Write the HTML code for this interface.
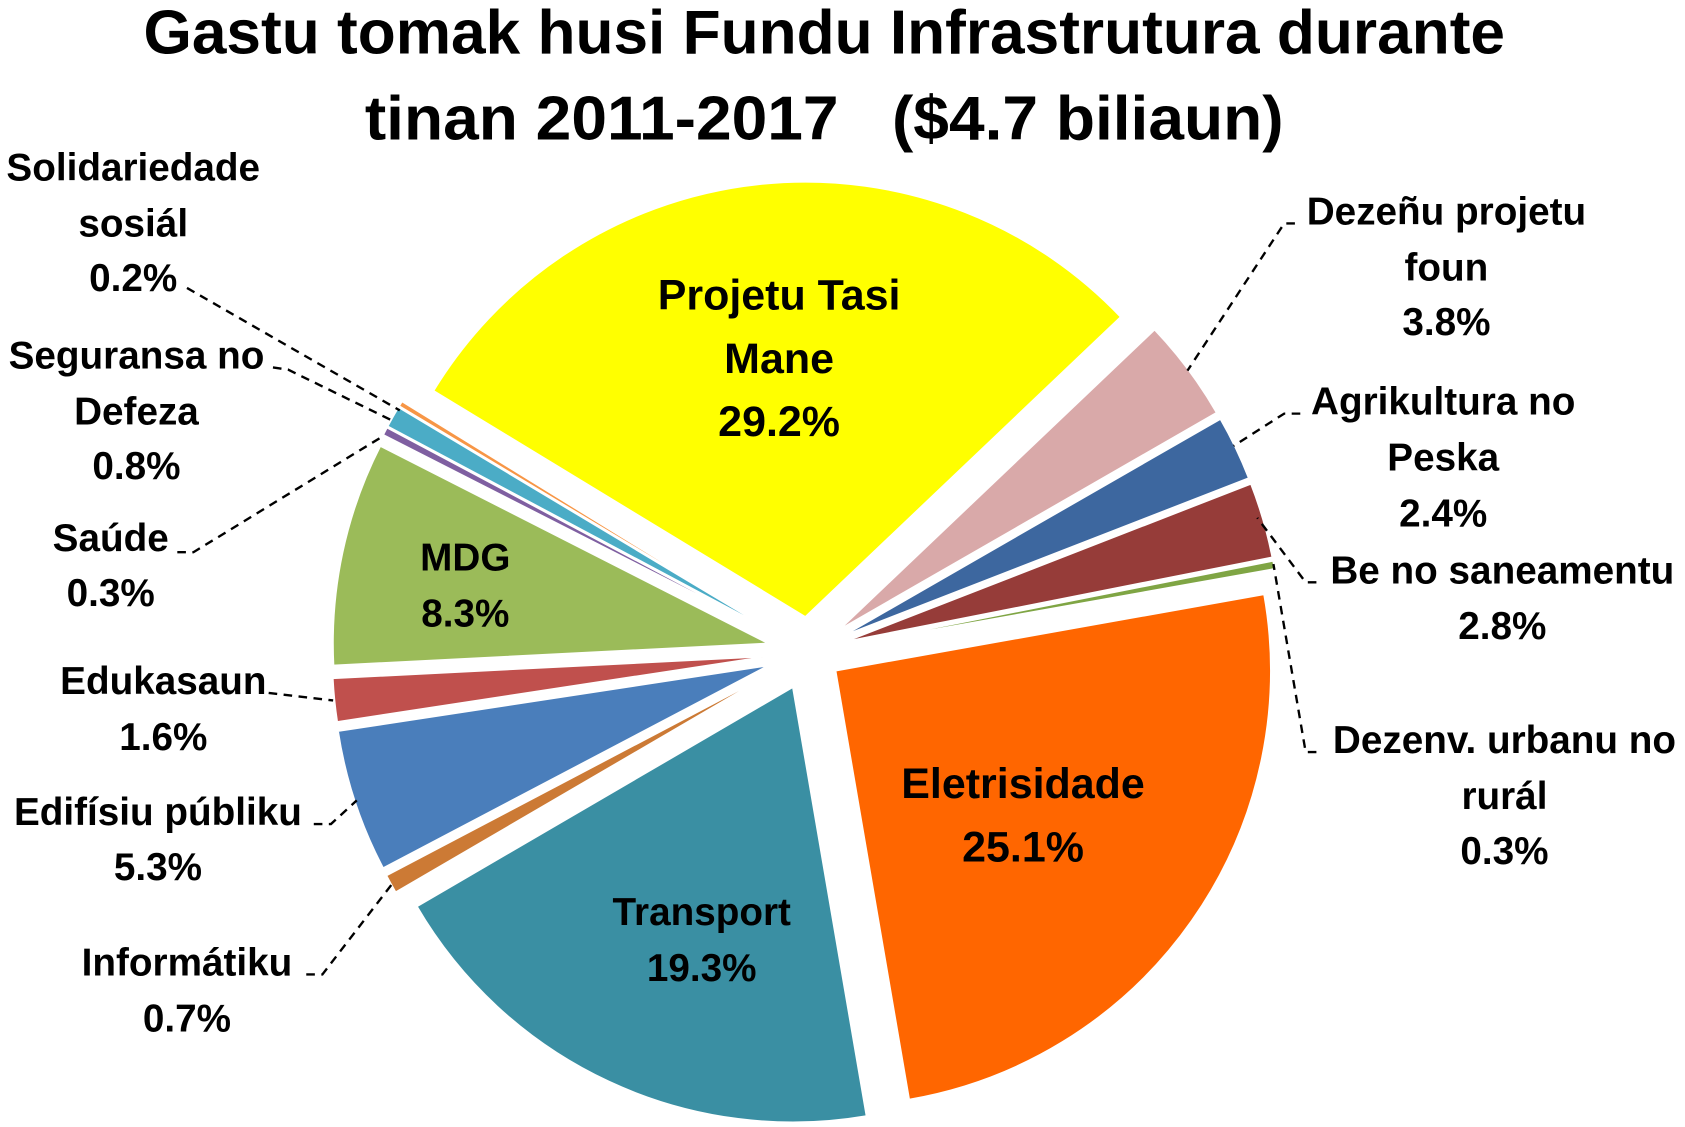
<!DOCTYPE html>
<html><head><meta charset="utf-8"><style>
html,body{margin:0;padding:0;background:#fff;}
svg{display:block;}
text{font-family:"Liberation Sans",sans-serif;font-weight:bold;fill:#000;}
</style></head><body>
<svg id="s" width="1685" height="1127" viewBox="0 0 1568 1049" preserveAspectRatio="none" xmlns="http://www.w3.org/2000/svg">
<rect width="1568" height="1049" fill="#fff"/>
<g id="pie"></g>
<g stroke="#000" stroke-width="2.2" stroke-dasharray="8,6" fill="none">
<polyline points="174,268 372,382"/>
<polyline points="254,342 268,344 366,392"/>
<polyline points="165,514 180,514 358,405"/>
<polyline points="250,645 310,652"/>
<polyline points="292,767 308,767 332,745"/>
<polyline points="285,907 300,907 367,820"/>
<polyline points="1205,208 1195,208 1105,345"/>
<polyline points="1210,385 1195,385 1148,415"/>
<polyline points="1225,542 1215,542 1170,482"/>
<polyline points="1225,700 1215,700 1185,525"/>
</g>
<g font-size="58" text-anchor="middle">
<text x="767" y="50" textLength="1267" lengthAdjust="spacingAndGlyphs">Gastu tomak husi Fundu Infrastrutura durante</text>
<text x="767" y="130" textLength="855" lengthAdjust="spacingAndGlyphs" xml:space="preserve">tinan 2011-2017   ($4.7 biliaun)</text>
</g>
<g font-size="36" text-anchor="middle">
<text x="124" y="168">Solidariedade</text><text x="124" y="220">sosiál</text><text x="124" y="271">0.2%</text>
<text x="127" y="343">Seguransa no</text><text x="127" y="395">Defeza</text><text x="127" y="446">0.8%</text>
<text x="103" y="513">Saúde</text><text x="103" y="564">0.3%</text>
<text x="152" y="646">Edukasaun</text><text x="152" y="698">1.6%</text>
<text x="147" y="768">Edifísiu públiku</text><text x="147" y="819">5.3%</text>
<text x="174" y="908">Informátiku</text><text x="174" y="960">0.7%</text>
<text x="1346" y="209">Dezeñu projetu</text><text x="1346" y="261">foun</text><text x="1346" y="312">3.8%</text>
<text x="1343" y="386">Agrikultura no</text><text x="1343" y="438">Peska</text><text x="1343" y="490">2.4%</text>
<text x="1398" y="543">Be no saneamentu</text><text x="1398" y="595">2.8%</text>
<text x="1400" y="701">Dezenv. urbanu no</text><text x="1400" y="753">rurál</text><text x="1400" y="804">0.3%</text>
<text x="433" y="531">MDG</text><text x="433" y="583">8.3%</text>
<text x="653" y="861">Transport</text><text x="653" y="913">19.3%</text>
</g>
<g font-size="40" text-anchor="middle">
<text x="725" y="288">Projetu Tasi</text><text x="725" y="347">Mane</text><text x="725" y="406">29.2%</text>
<text x="952" y="743">Eletrisidade</text><text x="952" y="802">25.1%</text>
</g>
</svg>
<script>
var data=[[29.2,"#FFFF00",33],[3.8,"#D9A9A9",35],[2.4,"#3D679F",35],[2.8,"#963C39",35],[0.3,"#7FA544",35],[25.1,"#FF6600",30],[19.3,"#3A8FA3",36],[0.7,"#CC7A35",40],[5.3,"#4A7EBB",40],[1.6,"#C0504D",39],[8.3,"#9BBB59",39],[0.3,"#7F5FA1",40],[0.8,"#4BACC6",40],[0.2,"#F79646",40]];
var cx=753,cy=607,r=405,a=211.3,g=document.getElementById("pie"),h="";
data.forEach(function(d){var sp=d[0]*3.6,m=(a+sp/2)*Math.PI/180,ox=cx+d[2]*Math.cos(m),oy=cy+d[2]*Math.sin(m);
var a1=a*Math.PI/180,a2=(a+sp)*Math.PI/180;
h+='<path fill="'+d[1]+'" stroke="#fff" stroke-width="1.5" d="M'+ox+','+oy+' L'+(ox+r*Math.cos(a1))+','+(oy+r*Math.sin(a1))+' A'+r+','+r+' 0 '+(sp>180?1:0)+' 1 '+(ox+r*Math.cos(a2))+','+(oy+r*Math.sin(a2))+' Z"/>';a+=sp;});
g.innerHTML=h;
</script>
</body></html>
